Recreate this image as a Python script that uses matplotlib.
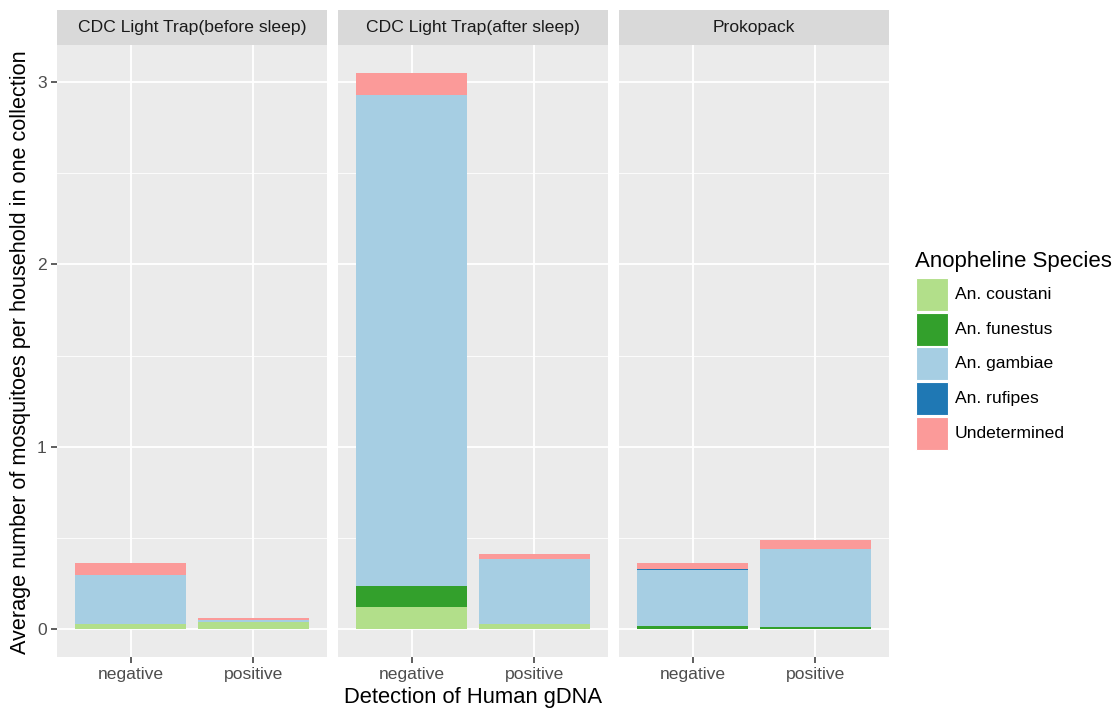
import matplotlib.pyplot as plt
from matplotlib.patches import Rectangle

plt.rcParams["font.family"] = ["Liberation Sans", "DejaVu Sans"]

panels = ["CDC Light Trap(before sleep)", "CDC Light Trap(after sleep)", "Prokopack"]
detection = ["negative", "positive"]
species = ["An. coustani", "An. funestus", "An. gambiae", "An. rufipes", "Undetermined"]
colors = ["#B2DF8A", "#33A02C", "#A6CEE3", "#1F78B4", "#FB9A99"]

# mean per household, [panel][detection]
coustani = [[0.026, 0.040], [0.123, 0.026], [0.0, 0.0]]
funestus = [[0.0, 0.0], [0.115, 0.0], [0.015, 0.011]]
gambiae = [[0.271, 0.013], [2.689, 0.360], [0.310, 0.430]]
rufipes = [[0.0, 0.0], [0.0, 0.0], [0.005, 0.0]]
undetermined = [[0.066, 0.011], [0.123, 0.024], [0.031, 0.050]]
series = [coustani, funestus, gambiae, rufipes, undetermined]

W, H = 1115, 711
fig = plt.figure(figsize=(W / 100, H / 100), dpi=100)

lefts = [57, 338, 619]
pw = 270
top, bottom = 45, 657
strip_top = 10

ymax = max(sum(s[p][d] for s in series) for p in range(3) for d in range(2))
ylo, yhi = -0.05 * ymax, ymax * 1.05

for p, name in enumerate(panels):
    ax = fig.add_axes([lefts[p] / W, (H - bottom) / H, pw / W, (bottom - top) / H])
    ax.set_facecolor("#EBEBEB")
    for y in [0.5, 1.5, 2.5]:
        ax.axhline(y, color="white", lw=0.6, zorder=0)
    for y in [0, 1, 2, 3]:
        ax.axhline(y, color="white", lw=1.3, zorder=0)
    for x in range(2):
        ax.axvline(x, color="white", lw=1.3, zorder=0)
    base = [0.0, 0.0]
    for s, c in zip(series, colors):
        vals = s[p]
        ax.bar(range(2), vals, width=0.9, bottom=base, color=c, zorder=2, linewidth=0)
        base = [b + v for b, v in zip(base, vals)]
    ax.set_xlim(-0.6, 1.6)
    ax.set_ylim(ylo, yhi)
    ax.set_xticks(range(2))
    ax.set_xticklabels(detection)
    ax.set_yticks([0, 1, 2, 3])
    ax.tick_params(colors="#333333", labelcolor="#4D4D4D", labelsize=12.6, width=1.1, length=4)
    if p == 0:
        ax.set_yticklabels(["0", "1", "2", "3"])
    else:
        ax.set_yticklabels([])
        ax.tick_params(axis="y", length=0)
    for sp in ax.spines.values():
        sp.set_visible(False)
    # strip
    fig.patches.append(Rectangle((lefts[p] / W, (H - top) / H), pw / W, (top - strip_top) / H,
                                 transform=fig.transFigure, facecolor="#D9D9D9", edgecolor="none"))
    fig.text((lefts[p] + pw / 2) / W, (H - (top + strip_top) / 2) / H, name,
             ha="center", va="center", fontsize=12.6, color="#1A1A1A")

fig.text(473 / W, 1 - 698 / H, "Detection of Human gDNA", ha="center", va="center", fontsize=15.8)
fig.text(21 / W, 1 - 352 / H, "Average number of mosquitoes per household in one collection",
         ha="center", va="center", rotation=90, fontsize=15.6)

# legend
fig.text(915 / W, 1 - 262 / H, "Anopheline Species", ha="left", va="center", fontsize=16)
for i, (lab, c) in enumerate(zip(species, colors)):
    y0 = 278 + i * 34.7
    fig.patches.append(Rectangle((916 / W, 1 - (y0 + 33) / H), 32 / W, 33 / H,
                                 transform=fig.transFigure, facecolor=c, edgecolor="white", lw=0.8))
    fig.text(955 / W, 1 - (y0 + 16.5) / H, lab, ha="left", va="center", fontsize=12.6)

fig.savefig("out.png", dpi=100)
